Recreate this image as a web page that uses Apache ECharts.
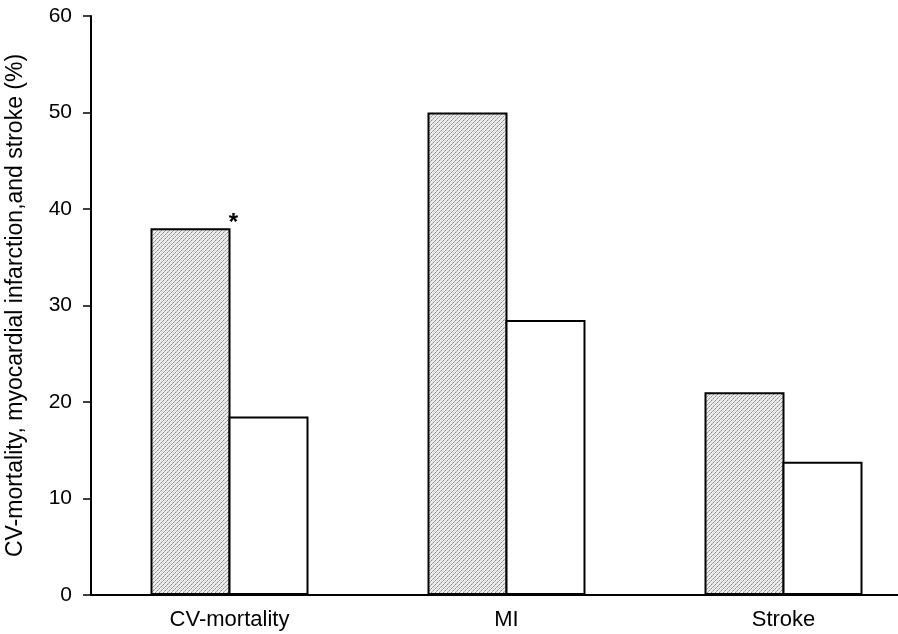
<!DOCTYPE html>
<html><head><meta charset="utf-8">
<script src="https://cdn.jsdelivr.net/npm/echarts@6/dist/echarts.min.js"></script>
<style>html,body{margin:0;padding:0;background:#fff}#c{width:898px;height:634px}</style>
</head><body><div id="c"></div>
<script>
const categories = ['CV-mortality', 'MI', 'Stroke'];
const hatchedValues = [38, 50, 21];
const whiteValues = [18.5, 28.5, 13.8];
const yTicks = [0, 10, 20, 30, 40, 50, 60];
const yAxisTitle = 'CV-mortality, myocardial infarction,and stroke (%)';
const starLabel = '*';

function makePattern() {
  const n = 8;
  const c = document.createElement('canvas');
  c.width = n; c.height = n;
  const g = c.getContext('2d');
  const img = g.createImageData(n, n);
  for (let y = 0; y < n; y++) {
    for (let x = 0; x < n; x++) {
      const i = (y * n + x) * 4;
      const onLine = ((x + y) % 4) === 3;
      const v = onLine ? ((x % 2) ? 140 : 175) : (((x * 3 + y * 5) % 7 === 0) ? 215 : 238);
      img.data[i] = v; img.data[i + 1] = v; img.data[i + 2] = v; img.data[i + 3] = 255;
    }
  }
  g.putImageData(img, 0, 0);
  return c;
}

const font = 'Liberation Sans, Arial, Helvetica';
const chart = echarts.init(document.getElementById('c'), null, {renderer: 'canvas'});
const pat = makePattern();
chart.setOption({
  animation: false,
  grid: {left: 91, width: 831, top: 16, bottom: 39, containLabel: false, outerBoundsMode: 'none'},
  xAxis: {
    type: 'category',
    data: categories,
    axisLine: {lineStyle: {color: '#000', width: 2}},
    axisTick: {show: false},
    axisLabel: {color: '#000', fontFamily: font, fontSize: 22, margin: 14}
  },
  yAxis: {
    type: 'value',
    min: yTicks[0], max: yTicks[yTicks.length - 1], interval: 10,
    name: yAxisTitle,
    nameLocation: 'middle',
    nameGap: 64,
    nameTextStyle: {color: '#000', fontFamily: font, fontSize: 23},
    axisLine: {show: true, lineStyle: {color: '#000', width: 2}},
    axisTick: {show: true, inside: false, length: 8, lineStyle: {color: '#000', width: 1.5}},
    axisLabel: {color: '#000', fontFamily: font, fontSize: 21, margin: 19},
    splitLine: {show: false}
  },
  series: [
    {
      type: 'bar',
      data: hatchedValues.map((v, i) => i === 0 ? {value: v, label: {show: true, formatter: starLabel, position: 'top', offset: [43, 12], fontSize: 24, fontWeight: 'bold', color: '#000', fontFamily: font}} : v),
      barWidth: 80,
      barGap: '-2.5%',
      itemStyle: {color: {image: pat, repeat: 'repeat'}, borderColor: '#000', borderWidth: 2}
    },
    {
      type: 'bar',
      data: whiteValues,
      barWidth: 80,
      barGap: '-2.5%',
      itemStyle: {color: '#fff', borderColor: '#000', borderWidth: 2}
    }
  ]
});
</script></body></html>
